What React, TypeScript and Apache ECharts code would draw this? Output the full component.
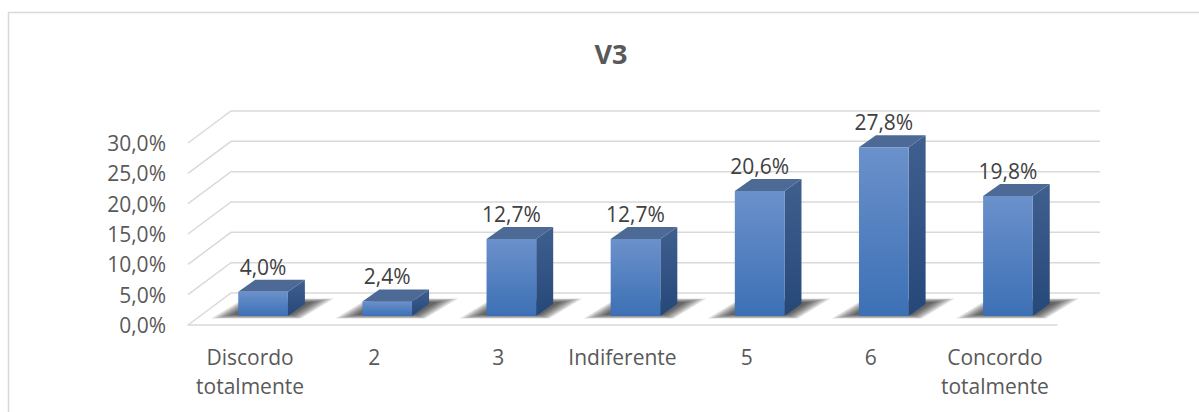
import React, { useEffect, useRef } from "react";
import * as echarts from "echarts";

const titleText = "V3";
const categories = ["Discordo\ntotalmente", "2", "3", "Indiferente", "5", "6", "Concordo\ntotalmente"];
const values = [4.0, 2.4, 12.7, 12.7, 20.6, 27.8, 19.8];
const yTicks = [0, 5, 10, 15, 20, 25, 30];

const FONT = "'Open Sans', 'Noto Sans', sans-serif";
const fmt = (v: number) => v.toFixed(1).replace(".", ",") + "%";

// perspective offsets
const WALL_DX = 43;
const WALL_DY = -32;
const BAR_DX = 13;
const BAR_DY = -9;
const SIDE_DX = 17;
const SIDE_DY = -12;

export default function App() {
  const ref = useRef<HTMLDivElement>(null);
  useEffect(() => {
    if (!ref.current) return;
    const chart = echarts.init(ref.current, null, { renderer: "svg" });
    const option: any = {
      animation: false,
      backgroundColor: "#ffffff",
      graphic: [
        {
          type: "rect",
          shape: { x: 8.5, y: 12.5, width: 1400, height: 600 },
          style: { fill: "none", stroke: "#d9d9d9", lineWidth: 1.5 },
          silent: true,
          z: 0,
        },
        {
          type: "text",
          x: 611,
          y: 53,
          style: {
            text: titleText,
            align: "center",
            verticalAlign: "middle",
            fill: "#595959",
            fontSize: 27,
            fontWeight: "bold",
            fontFamily: FONT,
          },
          z: 10,
        },
      ],
      grid: { left: 188, right: 142, top: 143, bottom: 87 },
      xAxis: {
        type: "category",
        data: categories,
        axisLine: { show: true, lineStyle: { color: "#d9d9d9", width: 1.5 } },
        axisTick: { show: false },
        splitLine: { show: false },
        axisLabel: {
          interval: 0,
          color: "#595959",
          fontSize: 21,
          fontFamily: FONT,
          lineHeight: 29,
          margin: 17,
        },
      },
      yAxis: {
        type: "value",
        min: 0,
        max: 30,
        interval: 5,
        axisLine: { show: false },
        axisTick: { show: false },
        splitLine: { show: false },
        axisLabel: {
          color: "#595959",
          fontSize: 21,
          fontFamily: FONT,
          margin: 22,
          formatter: (v: number) => fmt(v),
        },
      },
      series: [
        {
          type: "custom",
          silent: true,
          clip: false,
          z: 1,
          data: yTicks.map((t) => [0, t]),
          renderItem: (params: any, api: any) => {
            const cs = params.coordSys;
            const y = api.coord([0, api.value(1)])[1];
            const x0 = cs.x;
            const x1 = cs.x + cs.width;
            return {
              type: "polyline",
              shape: {
                points: [
                  [x0, y],
                  [x0 + WALL_DX, y + WALL_DY],
                  [x1 + WALL_DX, y + WALL_DY],
                ],
              },
              style: { fill: "none", stroke: "#d9d9d9", lineWidth: 1.5 },
            };
          },
        },
        {
          type: "custom",
          clip: false,
          z: 2,
          data: values.map((v, i) => [i, v]),
          renderItem: (params: any, api: any) => {
            const i = api.value(0);
            const v = api.value(1);
            const base = api.coord([i, 0]);
            const top = api.coord([i, v]);
            const bw = api.size([1, 0])[0] * 0.4;
            const cx = base[0] + BAR_DX;
            const fb = base[1] + BAR_DY;
            const ft = top[1] + BAR_DY;
            const l = cx - bw / 2;
            const r = cx + bw / 2;
            const shadows: any[] = [];
            for (let k = 6; k >= 0; k--) {
              const vy = k * 0.6;
              shadows.push({
                type: "polygon",
                shape: {
                  points: [
                    [l - 6 - 3.5 * k, fb - 1 + vy],
                    [r + 4 + 1.5 * k, fb - 1 + vy],
                    [r + SIDE_DX + 8 + 3.5 * k, fb + SIDE_DY - 2 - vy],
                    [l + SIDE_DX - 2 - 1.5 * k, fb + SIDE_DY - 2 - vy],
                  ],
                },
                style: { fill: "rgba(0,0,0,0.12)" },
              });
            }
            return {
              type: "group",
              children: [
                ...shadows,
                {
                  type: "polygon",
                  shape: {
                    points: [
                      [r, ft],
                      [r + SIDE_DX, ft + SIDE_DY],
                      [r + SIDE_DX, fb + SIDE_DY],
                      [r, fb],
                    ],
                  },
                  style: {
                    fill: new echarts.graphic.LinearGradient(0, 0, 0, 1, [
                      { offset: 0, color: "#3f5f8f" },
                      { offset: 1, color: "#264878" },
                    ]),
                  },
                },
                {
                  type: "polygon",
                  shape: {
                    points: [
                      [l, ft],
                      [r, ft],
                      [r + SIDE_DX, ft + SIDE_DY],
                      [l + SIDE_DX, ft + SIDE_DY],
                    ],
                  },
                  style: { fill: "#4d6a96" },
                },
                {
                  type: "rect",
                  shape: { x: l, y: ft, width: bw, height: fb - ft },
                  style: {
                    fill: new echarts.graphic.LinearGradient(0, 0, 0, 1, [
                      { offset: 0, color: "#6b91cb" },
                      { offset: 1, color: "#3c70b5" },
                    ]),
                  },
                },
                {
                  type: "text",
                  x: cx,
                  y: ft - 25,
                  style: {
                    text: fmt(v),
                    align: "center",
                    verticalAlign: "middle",
                    fill: "#404040",
                    fontSize: 21,
                    fontFamily: FONT,
                  },
                },
              ],
            };
          },
        },
      ],
    };
    chart.setOption(option);
    return () => chart.dispose();
  }, []);
  return (
    <div
      ref={ref}
      style={{ position: "fixed", left: 0, top: 0, width: "1199px", height: "412px" }}
    />
  );
}
